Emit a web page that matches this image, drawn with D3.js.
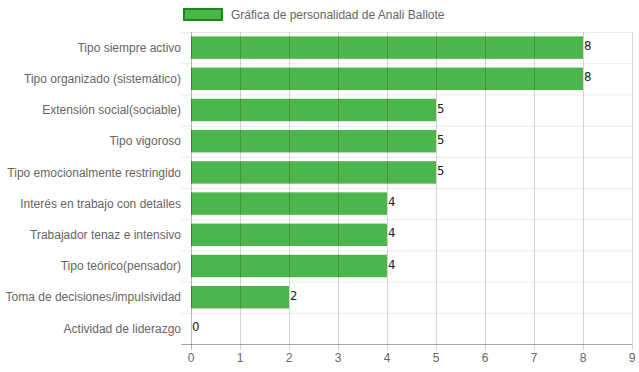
<!DOCTYPE html>
<html><head><meta charset="utf-8">
<script src="https://cdn.jsdelivr.net/npm/d3@7"></script>
<style>body{margin:0;background:#fff}svg{display:block}</style>
</head><body>
<script>
const categories = ["Tipo siempre activo","Tipo organizado (sistemático)","Extensión social(sociable)","Tipo vigoroso","Tipo emocionalmente restringido","Interés en trabajo con detalles","Trabajador tenaz e intensivo","Tipo teórico(pensador)","Toma de decisiones/impulsividad","Actividad de liderazgo"];
const values = [8,8,5,5,5,4,4,4,2,0];
const xTicks = [0,1,2,3,4,5,6,7,8,9];
const seriesName = "Gráfica de personalidad de Anali Ballote";

const W=639,H=372;
const m={top:32,left:191,right:632,bottom:344};
const svg=d3.select("body").append("svg").attr("width",W).attr("height",H);
const x=d3.scaleLinear().domain([0,9]).range([m.left,m.right]);
const y=d3.scaleBand().domain(categories).range([m.top,m.bottom]).paddingInner(0.28).paddingOuter(0.14);
const yb=d3.scaleBand().domain(categories).range([m.top,m.bottom]);
const font="'Liberation Sans', Arial, sans-serif";

// horizontal grid lines at band boundaries
const hLines=categories.map(c=>yb(c));
svg.append("g").selectAll("line").data(hLines).join("line")
  .attr("x1",m.left-10).attr("x2",m.right).attr("y1",d=>d+0.5).attr("y2",d=>d+0.5)
  .attr("stroke","rgba(0,0,0,0.08)");

// bars
svg.append("g").selectAll("rect").data(values).join("rect")
  .attr("x",x(0)).attr("y",(d,i)=>y(categories[i]))
  .attr("width",d=>x(d)-x(0)).attr("height",y.bandwidth())
  .attr("fill","#4cb54c");

// vertical grid lines (over bars)
svg.append("g").selectAll("line").data(xTicks).join("line")
  .attr("x1",d=>Math.round(x(d))+0.5).attr("x2",d=>Math.round(x(d))+0.5)
  .attr("y1",m.top).attr("y2",m.bottom+6)
  .attr("stroke",d=>d===0?"rgba(0,0,0,0.28)":"rgba(0,0,0,0.17)");

// bottom axis line
svg.append("line").attr("x1",m.left-10).attr("x2",m.right).attr("y1",m.bottom+0.5).attr("y2",m.bottom+0.5)
  .attr("stroke","rgba(0,0,0,0.35)");

// x tick labels
svg.append("g").selectAll("text").data(xTicks).join("text")
  .attr("x",d=>x(d)).attr("y",m.bottom+18).attr("text-anchor","middle")
  .attr("font-family",font).attr("font-size",12).attr("fill","#666").text(d=>d);

// y labels
svg.append("g").selectAll("text").data(categories).join("text")
  .attr("x",m.left-10).attr("y",d=>yb(d)+yb.bandwidth()/2).attr("dy","0.35em")
  .attr("text-anchor","end").attr("font-family",font).attr("font-size",12).attr("fill","#666").text(d=>d);

// value labels
svg.append("g").selectAll("text").data(values).join("text")
  .attr("x",d=>x(d)+1).attr("y",(d,i)=>yb(categories[i])+yb.bandwidth()/2-2).attr("dy","0.35em")
  .attr("font-family","'Liberation Sans Narrow','DejaVu Sans Condensed',sans-serif").attr("font-size",13).attr("font-weight",300).attr("fill","#222").text(d=>d);

// legend
svg.append("rect").attr("x",184).attr("y",9).attr("width",38).attr("height",11)
  .attr("fill","#4cb54c").attr("stroke","#1b8a1b").attr("stroke-width",2);
svg.append("text").attr("x",231).attr("y",15).attr("dy","0.35em")
  .attr("font-family",font).attr("font-size",12).attr("fill","#666").text(seriesName);
</script>
</body></html>
